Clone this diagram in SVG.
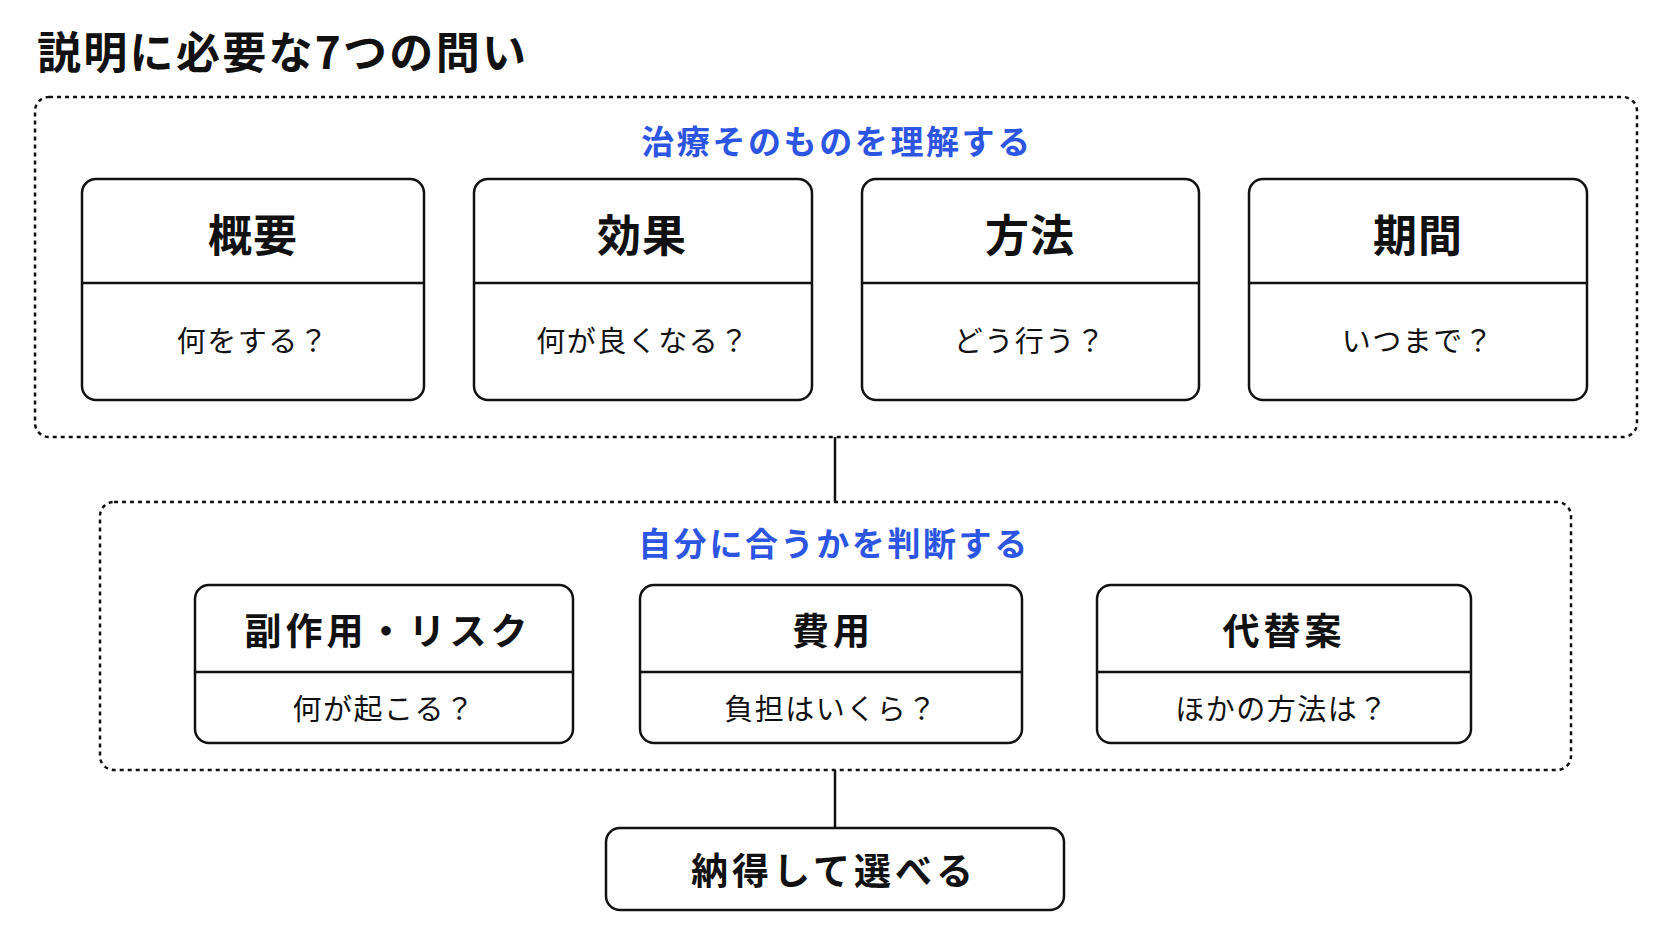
<svg xmlns="http://www.w3.org/2000/svg" width="1672" height="941" viewBox="0 0 1672 941">
<style>
text{font-family:"Noto Sans CJK JP","Noto Sans CJK SC",sans-serif;dominant-baseline:central;fill:#111}
.title{font-size:44px;font-weight:700;letter-spacing:2.3px}
.head{font-size:33px;font-weight:700;fill:#2d55e3;letter-spacing:2.6px;text-anchor:middle}
.nt{font-size:44px;font-weight:700;text-anchor:middle;letter-spacing:1px}
.nt2{font-size:37px;font-weight:700;text-anchor:middle;letter-spacing:4px}
.sub{font-size:29px;font-weight:400;text-anchor:middle;letter-spacing:1.5px}
.box{fill:#fff;stroke:#111;stroke-width:2.5}
.div{stroke:#111;stroke-width:2.5}
.group{fill:none;stroke:#111;stroke-width:2.5;stroke-dasharray:4 4}
.conn{stroke:#111;stroke-width:2.5}
</style>
<rect width="1672" height="941" fill="#fff"/>
<text class="title" x="37" y="50">説明に必要な7つの問い</text>

<g id="group-understand">
<rect class="group" x="35" y="97" width="1602" height="340" rx="14"/>
<text class="head" x="837" y="140">治療そのものを理解する</text>
</g>
<g id="group-judge">
<rect class="group" x="100" y="502" width="1471" height="268" rx="14"/>
<text class="head" x="834" y="542">自分に合うかを判断する</text>
</g>

<g id="connectors">
<line class="conn" x1="835" y1="437" x2="835" y2="502"/>
<line class="conn" x1="835" y1="770" x2="835" y2="828"/>
</g>

<g id="node-gaiyou">
<rect class="box" x="82" y="179" width="342" height="221" rx="14"/>
<line class="div" x1="82" y1="283" x2="424" y2="283"/>
<text class="nt" x="253" y="233">概要</text>
<text class="sub" x="253" y="339">何をする？</text>
</g>
<g id="node-kouka">
<rect class="box" x="474" y="179" width="338" height="221" rx="14"/>
<line class="div" x1="474" y1="283" x2="812" y2="283"/>
<text class="nt" x="642" y="233">効果</text>
<text class="sub" x="643" y="339">何が良くなる？</text>
</g>
<g id="node-houhou">
<rect class="box" x="862" y="179" width="337" height="221" rx="14"/>
<line class="div" x1="862" y1="283" x2="1199" y2="283"/>
<text class="nt" x="1030" y="233">方法</text>
<text class="sub" x="1030" y="339">どう行う？</text>
</g>
<g id="node-kikan">
<rect class="box" x="1249" y="179" width="338" height="221" rx="14"/>
<line class="div" x1="1249" y1="283" x2="1587" y2="283"/>
<text class="nt" x="1418" y="233">期間</text>
<text class="sub" x="1418" y="339">いつまで？</text>
</g>

<g id="node-risk">
<rect class="box" x="195" y="585" width="378" height="158" rx="14"/>
<line class="div" x1="195" y1="672" x2="573" y2="672"/>
<text class="nt2" x="388" y="629">副作用・リスク</text>
<text class="sub" x="384" y="707">何が起こる？</text>
</g>
<g id="node-hiyou">
<rect class="box" x="640" y="585" width="382" height="158" rx="14"/>
<line class="div" x1="640" y1="672" x2="1022" y2="672"/>
<text class="nt2" x="833" y="629">費用</text>
<text class="sub" x="831" y="707">負担はいくら？</text>
</g>
<g id="node-daitai">
<rect class="box" x="1097" y="585" width="374" height="158" rx="14"/>
<line class="div" x1="1097" y1="672" x2="1471" y2="672"/>
<text class="nt2" x="1284" y="629">代替案</text>
<text class="sub" x="1282" y="707">ほかの方法は？</text>
</g>

<g id="node-result">
<rect class="box" x="606" y="828" width="458" height="82" rx="14"/>
<text class="nt2" x="834" y="869">納得して選べる</text>
</g>
</svg>
